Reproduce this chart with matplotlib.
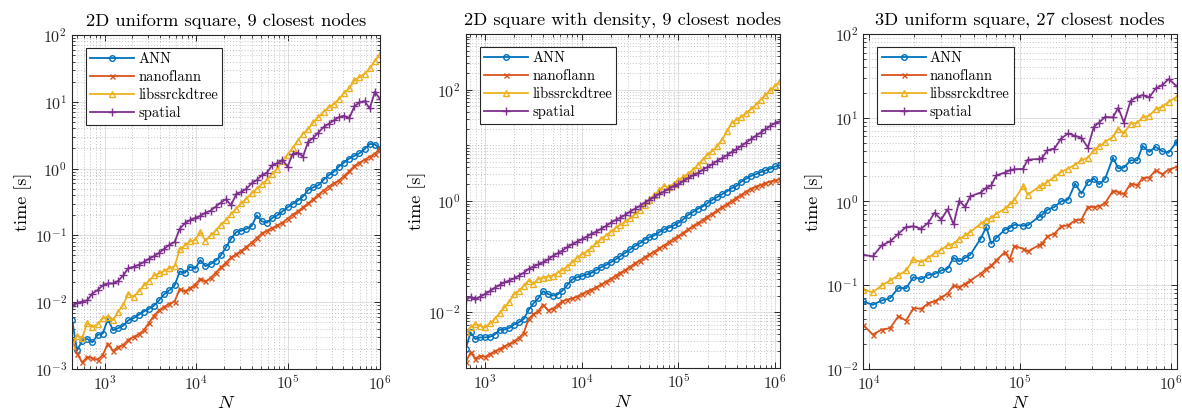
"""kd-tree library benchmark: query time against number of points N."""

import matplotlib

matplotlib.use("Agg")

import matplotlib.pyplot as plt
import numpy as np
from matplotlib.ticker import FixedLocator, LogFormatterMathtext, NullFormatter

plt.rcParams["font.family"] = ["cmr10", "DejaVu Serif"]
plt.rcParams["mathtext.fontset"] = "cm"
plt.rcParams["axes.formatter.use_mathtext"] = True
plt.rcParams["axes.unicode_minus"] = False

# ---------------------------------------------------------------------------
# Data: N and log10(time [s]) per library.
# ---------------------------------------------------------------------------
N_UNIFORM_2D = [
    441, 501, 570, 648, 737, 838, 954, 1085, 1234, 1403, 1596, 1815, 2064,
    2348, 2671, 3038, 3456, 3931, 4471, 5086, 5785, 6580, 7485, 8514, 9684,
    11015, 12529, 14252, 16211, 18440, 20975, 23858, 27138, 30868, 35112,
    39939, 45429, 51674, 58777, 66858, 76049, 86503, 98394, 111920, 127306,
    144806, 164713, 187355, 213111, 242407, 275730, 313634, 356749, 405790,
    461573, 525026, 597200, 679297, 772677, 878893, 1000000,
]
ANN_UNIFORM_2D = [
    -2.26, -2.72, -2.58, -2.55, -2.60, -2.49, -2.47, -2.25, -2.42, -2.39,
    -2.35, -2.27, -2.24, -2.19, -2.14, -2.10, -2.05, -1.97, -1.88, -1.82,
    -1.75, -1.54, -1.56, -1.47, -1.50, -1.37, -1.46, -1.43, -1.38, -1.30,
    -1.18, -1.05, -0.95, -0.93, -0.90, -0.86, -0.70, -0.79, -0.81, -0.74,
    -0.70, -0.64, -0.58, -0.53, -0.48, -0.42, -0.32, -0.28, -0.25, -0.17,
    -0.10, -0.05, 0.03, 0.09, 0.15, 0.19, 0.23, 0.29, 0.37, 0.36, 0.30,
]
NANOFLANN_UNIFORM_2D = [
    -2.55, -2.77, -2.90, -2.82, -2.84, -2.86, -2.79, -2.62, -2.73, -2.67,
    -2.64, -2.56, -2.52, -2.48, -2.42, -2.31, -2.20, -2.12, -2.07, -2.02,
    -1.99, -1.80, -1.84, -1.79, -1.74, -1.65, -1.69, -1.64, -1.56, -1.48,
    -1.41, -1.33, -1.28, -1.23, -1.17, -1.11, -1.04, -0.97, -0.93, -0.89,
    -0.85, -0.81, -0.75, -0.69, -0.64, -0.58, -0.52, -0.46, -0.39, -0.33,
    -0.27, -0.22, -0.18, -0.11, -0.04, 0.04, 0.09, 0.13, 0.18, 0.22, 0.30,
]
LIBSSRCKDTREE_UNIFORM_2D = [
    -2.66, -2.50, -2.53, -2.31, -2.37, -2.33, -2.24, -2.22, -2.27, -2.14,
    -2.04, -1.87, -1.92, -1.84, -1.75, -1.68, -1.60, -1.57, -1.53, -1.49,
    -1.46, -1.21, -1.15, -1.09, -1.07, -0.95, -1.08, -1.00, -0.93, -0.84,
    -0.77, -0.68, -0.60, -0.52, -0.45, -0.37, -0.30, -0.23, -0.17, -0.08,
    0.00, 0.12, 0.21, 0.31, 0.42, 0.52, 0.59, 0.69, 0.77, 0.85,
    0.92, 0.96, 1.04, 1.13, 1.20, 1.32, 1.37, 1.42, 1.50, 1.61, 1.71,
]
SPATIAL_UNIFORM_2D = [
    -2.06, -2.01, -1.99, -1.97, -1.87, -1.82, -1.75, -1.72, -1.72, -1.68,
    -1.60, -1.49, -1.47, -1.44, -1.40, -1.35, -1.31, -1.26, -1.20, -1.14,
    -1.10, -0.90, -0.82, -0.77, -0.74, -0.71, -0.66, -0.63, -0.57, -0.51,
    -0.46, -0.55, -0.38, -0.35, -0.30, -0.22, -0.17, -0.10, -0.06, 0.05,
    0.08, 0.13, 0.03, 0.22, 0.24, 0.18, 0.40, 0.46, 0.54, 0.62,
    0.67, 0.72, 0.77, 0.79, 0.75, 0.93, 0.99, 1.01, 0.90, 1.15, 1.04,
]

N_DENSITY_2D = [
    631, 708, 794, 891, 1000, 1122, 1259, 1413, 1585, 1778, 1995, 2239, 2512,
    2818, 3162, 3548, 3981, 4467, 5012, 5623, 6310, 7079, 7943, 8913, 10000,
    11220, 12589, 14125, 15849, 17783, 19953, 22387, 25119, 28184, 31623,
    35481, 39811, 44668, 50119, 56234, 63096, 70795, 79433, 89125, 100000,
    112202, 125893, 141254, 158489, 177828, 199526, 223872, 251189, 281838,
    316228, 354813, 398107, 446684, 501187, 562341, 630957, 707946, 794328,
    891251, 1000000, 1122018,
]
ANN_DENSITY_2D = [
    -2.66, -2.36, -2.48, -2.45, -2.45, -2.44, -2.40, -2.31, -2.31, -2.28,
    -2.22, -2.18, -2.12, -1.96, -1.84, -1.75, -1.62, -1.67, -1.70, -1.68,
    -1.61, -1.51, -1.41, -1.37, -1.35, -1.32, -1.29, -1.24, -1.19, -1.15,
    -1.10, -1.05, -0.99, -0.93, -0.87, -0.81, -0.76, -0.70, -0.65, -0.62,
    -0.56, -0.51, -0.48, -0.44, -0.39, -0.33, -0.25, -0.20, -0.14, -0.10,
    -0.04, 0.02, 0.07, 0.12, 0.17, 0.23, 0.27, 0.35, 0.40, 0.45,
    0.48, 0.52, 0.55, 0.58, 0.62, 0.64,
]
NANOFLANN_DENSITY_2D = [
    -2.90, -2.72, -2.83, -2.78, -2.80, -2.75, -2.70, -2.66, -2.61, -2.57,
    -2.52, -2.46, -2.37, -2.12, -2.03, -1.98, -1.86, -1.96, -1.94, -1.87,
    -1.80, -1.77, -1.75, -1.72, -1.67, -1.63, -1.59, -1.55, -1.50, -1.45,
    -1.40, -1.34, -1.29, -1.24, -1.18, -1.12, -1.07, -1.01, -0.96, -0.91,
    -0.85, -0.80, -0.74, -0.68, -0.63, -0.57, -0.51, -0.45, -0.40, -0.34,
    -0.28, -0.23, -0.17, -0.11, -0.06, 0.00, 0.06, 0.11, 0.17, 0.22,
    0.26, 0.29, 0.32, 0.35, 0.37, 0.39,
]
LIBSSRCKDTREE_DENSITY_2D = [
    -2.36, -2.27, -2.21, -2.24, -2.27, -2.20, -2.12, -2.02, -1.91, -1.81,
    -1.67, -1.61, -1.52, -1.43, -1.49, -1.40, -1.38, -1.36, -1.34, -1.29,
    -1.24, -1.18, -1.10, -1.02, -0.96, -0.91, -0.84, -0.76, -0.68, -0.62,
    -0.55, -0.48, -0.43, -0.37, -0.31, -0.24, -0.16, -0.07, 0.02, 0.10,
    0.19, 0.27, 0.25, 0.31, 0.38, 0.43, 0.49, 0.56, 0.65, 0.74,
    0.83, 0.90, 0.98, 1.10, 1.25, 1.40, 1.46, 1.51, 1.58, 1.65,
    1.73, 1.82, 1.90, 1.99, 2.07, 2.15,
]
SPATIAL_DENSITY_2D = [
    -1.78, -1.72, -1.76, -1.72, -1.67, -1.62, -1.56, -1.51, -1.46, -1.43,
    -1.39, -1.34, -1.29, -1.22, -1.18, -1.14, -1.10, -1.05, -0.99, -0.94,
    -0.89, -0.83, -0.78, -0.73, -0.69, -0.64, -0.59, -0.55, -0.50, -0.45,
    -0.39, -0.34, -0.30, -0.25, -0.19, -0.14, -0.09, -0.03, 0.02, 0.07,
    0.13, 0.17, 0.22, 0.27, 0.30, 0.36, 0.41, 0.46, 0.50, 0.56,
    0.61, 0.66, 0.72, 0.77, 0.82, 0.88, 0.93, 0.99, 1.05, 1.11,
    1.17, 1.23, 1.29, 1.35, 1.40, 1.43,
]

N_UNIFORM_3D = [
    9170, 10580, 12140, 13790, 15660, 17610, 19710, 22160, 24790, 27180,
    30090, 33150, 36340, 39630, 43450, 46910, 54920, 59890, 64650, 69820,
    79680, 85580, 91930, 105000, 112700, 133400, 141100, 152300, 169500,
    187700, 208900, 232600, 256300, 282300, 309500, 335800, 368100, 413900,
    449100, 489700, 542400, 600500, 651600, 721700, 795000, 880300, 970000,
    1096000,
]
ANN_UNIFORM_3D = [
    -1.194, -1.234, -1.182, -1.155, -1.031, -1.035, -0.903, -0.927, -0.875,
    -0.866, -0.824, -0.804, -0.672, -0.712, -0.672, -0.636, -0.445, -0.305,
    -0.504, -0.433, -0.337, -0.317, -0.277, -0.289, -0.285, -0.185, -0.154,
    -0.098, -0.066, 0.002, 0.022, 0.213, 0.094, 0.233, 0.273, 0.205, 0.273,
    0.524, 0.397, 0.405, 0.492, 0.492, 0.664, 0.592, 0.652, 0.600, 0.584,
    0.712,
]
NANOFLANN_UNIFORM_3D = [
    -1.474, -1.589, -1.529, -1.513, -1.370, -1.422, -1.274, -1.282, -1.214,
    -1.194, -1.143, -1.103, -1.003, -1.023, -0.983, -0.943, -0.863, -0.804,
    -0.764, -0.704, -0.604, -0.692, -0.532, -0.564, -0.596, -0.524, -0.497,
    -0.417, -0.385, -0.297, -0.285, -0.225, -0.217, -0.066, -0.066, -0.058,
    -0.018, 0.126, 0.114, 0.086, 0.213, 0.193, 0.281, 0.285, 0.373, 0.325,
    0.381, 0.413,
]
LIBSSRCKDTREE_UNIFORM_3D = [
    -1.055, -1.083, -1.003, -0.943, -0.883, -0.824, -0.692, -0.724, -0.672,
    -0.616, -0.576, -0.524, -0.504, -0.445, -0.405, -0.365, -0.265, -0.225,
    -0.193, -0.146, -0.086, -0.034, 0.020, 0.185, 0.082, 0.173, 0.193,
    0.233, 0.293, 0.353, 0.393, 0.441, 0.493, 0.524, 0.612, 0.660, 0.712,
    0.772, 0.871, 0.812, 0.931, 0.939, 1.003, 1.023, 1.103, 1.131, 1.190,
    1.250,
]
SPATIAL_UNIFORM_3D = [
    -0.636, -0.656, -0.524, -0.477, -0.385, -0.305, -0.297, -0.325, -0.253,
    -0.134, -0.217, -0.094, -0.273, 0.006, -0.066, 0.062, 0.106, 0.162,
    0.193, 0.313, 0.345, 0.373, 0.385, 0.389, 0.500, 0.508, 0.524, 0.612,
    0.632, 0.752, 0.812, 0.784, 0.760, 0.644, 0.891, 0.943, 1.011, 1.003,
    1.119, 0.943, 1.202, 1.250, 1.270, 1.242, 1.350, 1.390, 1.462, 1.378,
]

LIBRARIES = ["ANN", "nanoflann", "libssrckdtree", "spatial"]
TITLES = [
    "2D uniform square, 9 closest nodes",
    "2D square with density, 9 closest nodes",
    "3D uniform square, 27 closest nodes",
]

COLORS = ["#0072BD", "#D95319", "#EDB120", "#7E2F8E"]
MARKERS = ["o", "x", "^", "+"]
MARKER_SIZES = [4.0, 3.6, 4.6, 5.2]


def style_log_axis(axis, majors, lo_exp, hi_exp):
    """Decade labels as 10^k, minor ticks at 2..9 and at skipped decades."""

    axis.set_major_locator(FixedLocator(majors))
    axis.set_major_formatter(LogFormatterMathtext())
    minors = [m * 10.0**e for e in range(lo_exp, hi_exp) for m in range(1, 10)]
    minors = [v for v in minors if not any(np.isclose(v, majors))]
    axis.set_minor_locator(FixedLocator(minors))
    axis.set_minor_formatter(NullFormatter())


def draw_panel(ax, n_values, series, title, ylim, xmajors, ymajors):
    """Draw one benchmark panel with the four libraries."""

    for label, values, color, marker, size in zip(LIBRARIES, series, COLORS, MARKERS, MARKER_SIZES):
        ax.plot(
            n_values,
            np.power(10.0, values),
            color=color,
            marker=marker,
            markersize=size,
            markerfacecolor="none",
            markeredgewidth=1.0,
            linewidth=1.3,
            label=label,
        )

    ax.set_xscale("log")
    ax.set_yscale("log")
    ax.set_xlim(n_values[0], n_values[-1])
    ax.set_ylim(*ylim)

    lo_x = int(np.floor(np.log10(n_values[0])))
    hi_x = int(np.ceil(np.log10(n_values[-1]))) + 1
    style_log_axis(ax.xaxis, xmajors, lo_x, hi_x)
    style_log_axis(ax.yaxis, ymajors, int(np.log10(ylim[0])), int(np.log10(ylim[1])) + 1)

    ax.grid(which="major", color="#dedede", linewidth=0.7, linestyle="-")
    ax.grid(which="minor", color="#c4c4c4", linewidth=0.7, linestyle=(0, (1, 2)))
    ax.set_axisbelow(True)

    ax.tick_params(which="both", direction="in", top=True, right=True, colors="#262626", labelsize=11.5)
    ax.tick_params(which="major", length=4.5, width=0.7)
    ax.tick_params(which="minor", length=2.5, width=0.6)
    for spine in ax.spines.values():
        spine.set_color("#262626")
        spine.set_linewidth(0.8)

    ax.set_title(title, fontsize=13.3, pad=6)
    ax.set_xlabel("$N$", fontsize=13.5, labelpad=1)
    ax.set_ylabel("time [s]", fontsize=13, labelpad=2)

    legend = ax.legend(
        loc="upper left",
        bbox_to_anchor=(0.045, 0.962),
        fontsize=10.5,
        frameon=True,
        fancybox=False,
        framealpha=1.0,
        edgecolor="#262626",
        handlelength=3.0,
        handletextpad=0.3,
        labelspacing=0.3,
        borderpad=0.3,
        borderaxespad=0.0,
    )
    legend.get_frame().set_linewidth(0.8)


def main():
    fig = plt.figure(figsize=(11.82, 4.12), dpi=100)

    ax1 = fig.add_axes([0.0609, 0.1044, 0.2606, 0.8107])
    draw_panel(
        ax1,
        N_UNIFORM_2D,
        [ANN_UNIFORM_2D, NANOFLANN_UNIFORM_2D, LIBSSRCKDTREE_UNIFORM_2D, SPATIAL_UNIFORM_2D],
        TITLES[0],
        (1e-3, 1e2),
        [1e3, 1e4, 1e5, 1e6],
        [1e-3, 1e-2, 1e-1, 1e0, 1e1, 1e2],
    )

    ax2 = fig.add_axes([0.3940, 0.1068, 0.2659, 0.8107])
    draw_panel(
        ax2,
        N_DENSITY_2D,
        [ANN_DENSITY_2D, NANOFLANN_DENSITY_2D, LIBSSRCKDTREE_DENSITY_2D, SPATIAL_DENSITY_2D],
        TITLES[1],
        (1e-3, 1e3),
        [1e3, 1e4, 1e5, 1e6],
        [1e-2, 1e0, 1e2],
    )

    ax3 = fig.add_axes([0.7304, 0.1044, 0.2651, 0.8131])
    draw_panel(
        ax3,
        N_UNIFORM_3D,
        [ANN_UNIFORM_3D, NANOFLANN_UNIFORM_3D, LIBSSRCKDTREE_UNIFORM_3D, SPATIAL_UNIFORM_3D],
        TITLES[2],
        (1e-2, 1e2),
        [1e4, 1e5, 1e6],
        [1e-2, 1e-1, 1e0, 1e1, 1e2],
    )

    fig.savefig("out.png", dpi=100)
    plt.close(fig)


if __name__ == "__main__":
    main()
